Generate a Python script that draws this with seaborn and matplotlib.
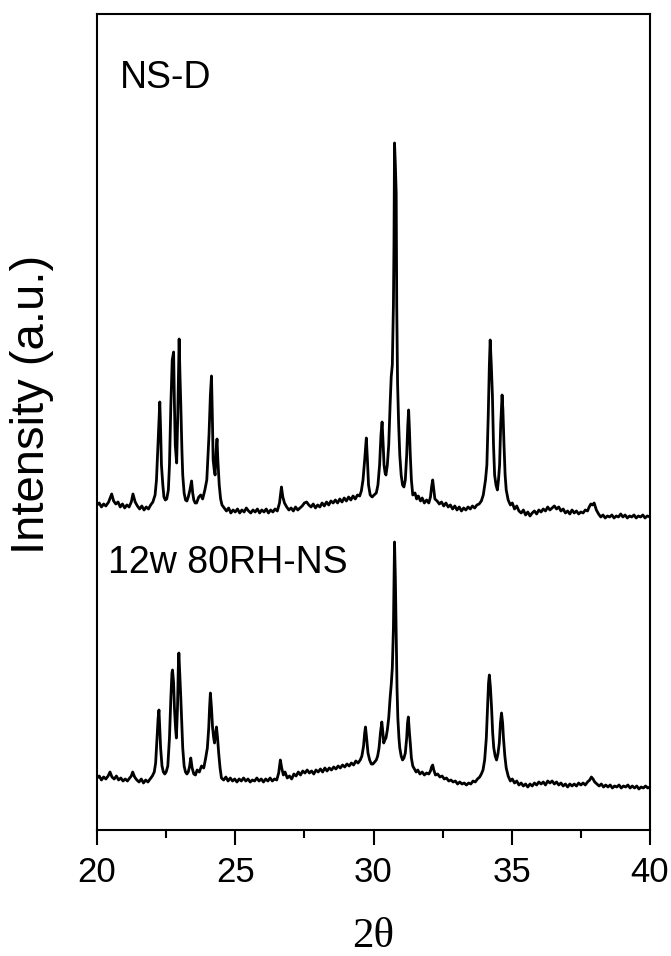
import pandas as pd
import matplotlib
matplotlib.use('Agg')
import matplotlib.pyplot as plt
from matplotlib.ticker import MultipleLocator
import seaborn as sns

# (2-theta, intensity a.u.) pairs, baseline near 0
ns_d_points = [
    (20.0, 0), (20.08, 2), (20.16, -2), (20.24, 1), (20.32, -1), (20.42, 3), (20.53, 11),
    (20.6, 4), (20.68, 1), (20.76, 3), (20.84, -2), (20.92, 1), (21.0, -3), (21.08, 0),
    (21.16, -2), (21.24, 3), (21.3, 11), (21.38, 3), (21.46, -1), (21.54, -4), (21.62, -1),
    (21.7, -5), (21.78, -2), (21.86, -4), (21.94, 0), (22.02, 3), (22.1, 10), (22.15, 25),
    (22.22, 70), (22.27, 103), (22.3, 75), (22.33, 40), (22.38, 20), (22.42, 8), (22.47, 5),
    (22.52, 6), (22.58, 15), (22.62, 40), (22.67, 100), (22.72, 145), (22.77, 153),
    (22.8, 100), (22.83, 60), (22.88, 42), (22.92, 90), (22.97, 166), (23.0, 130),
    (23.03, 100), (23.07, 55), (23.1, 30), (23.15, 12), (23.2, 5), (23.25, 4), (23.3, 8),
    (23.36, 15), (23.42, 24), (23.46, 12), (23.5, 5), (23.55, 2), (23.6, 2), (23.68, 8),
    (23.75, 10), (23.82, 6), (23.9, 15), (23.97, 25), (24.05, 70), (24.1, 110), (24.14, 129),
    (24.17, 90), (24.2, 45), (24.24, 35), (24.27, 30), (24.31, 55), (24.34, 66), (24.37, 45),
    (24.42, 20), (24.47, 6), (24.52, 0), (24.6, -3), (24.68, -6), (24.76, -3), (24.84, -8),
    (24.92, -5), (25.0, -7), (25.08, -4), (25.16, -8), (25.24, -5), (25.32, -7), (25.4, -3),
    (25.48, -6), (25.56, -8), (25.64, -5), (25.72, -7), (25.8, -4), (25.88, -8), (25.96, -5),
    (26.04, -7), (26.12, -4), (26.2, -8), (26.28, -5), (26.36, -7), (26.44, -4), (26.52, -6),
    (26.6, 2), (26.67, 18), (26.72, 8), (26.78, 2), (26.86, -2), (26.94, -5), (27.02, -3),
    (27.1, -6), (27.18, -2), (27.26, -5), (27.34, -3), (27.42, -1), (27.5, 2), (27.58, 3),
    (27.66, 0), (27.74, -2), (27.82, 1), (27.9, -3), (27.98, 0), (28.06, -2), (28.14, 2),
    (28.22, -1), (28.3, 3), (28.38, 0), (28.46, 4), (28.54, 2), (28.62, 5), (28.7, 2),
    (28.78, 6), (28.86, 3), (28.94, 7), (29.02, 4), (29.1, 8), (29.18, 5), (29.26, 9),
    (29.34, 6), (29.42, 10), (29.5, 9), (29.56, 14), (29.62, 25), (29.68, 45), (29.74, 67),
    (29.78, 45), (29.82, 20), (29.88, 10), (29.95, 8), (30.02, 10), (30.1, 12), (30.16, 20),
    (30.22, 40), (30.27, 70), (30.31, 83), (30.35, 60), (30.38, 40), (30.42, 32), (30.45, 30),
    (30.5, 40), (30.55, 60), (30.6, 100), (30.64, 128), (30.68, 140), (30.72, 200),
    (30.74, 260), (30.76, 362), (30.79, 340), (30.82, 312), (30.84, 200), (30.87, 122),
    (30.91, 80), (30.95, 50), (31.0, 30), (31.05, 20), (31.1, 18), (31.15, 25), (31.2, 50),
    (31.24, 80), (31.27, 95), (31.3, 75), (31.33, 50), (31.37, 25), (31.42, 10), (31.5, 12),
    (31.56, 6), (31.62, 9), (31.7, 4), (31.76, 7), (31.84, 2), (31.92, 5), (32.0, 2),
    (32.06, 8), (32.1, 18), (32.14, 25), (32.18, 15), (32.22, 6), (32.3, 4), (32.38, 1),
    (32.46, 3), (32.54, -1), (32.62, 2), (32.7, -2), (32.78, 0), (32.86, -4), (32.94, -1),
    (33.02, -5), (33.1, -2), (33.18, -6), (33.26, -3), (33.34, -5), (33.42, -2), (33.5, -4),
    (33.58, -1), (33.66, -3), (33.74, 0), (33.82, 1), (33.9, 4), (33.97, 10), (34.05, 25),
    (34.1, 40), (34.15, 90), (34.19, 140), (34.22, 165), (34.26, 140), (34.3, 110),
    (34.34, 60), (34.38, 30), (34.43, 20), (34.48, 15), (34.52, 25), (34.56, 40), (34.6, 80),
    (34.65, 110), (34.68, 95), (34.72, 60), (34.76, 30), (34.8, 15), (34.87, 5), (34.95, 0),
    (35.02, 2), (35.1, -4), (35.18, -1), (35.26, -6), (35.34, -8), (35.42, -5), (35.5, -10),
    (35.58, -7), (35.66, -11), (35.74, -8), (35.82, -6), (35.9, -9), (35.98, -5), (36.06, -7),
    (36.14, -4), (36.22, -6), (36.3, -2), (36.38, -5), (36.46, -3), (36.54, -1), (36.62, -4),
    (36.7, -2), (36.78, -6), (36.86, -4), (36.94, -8), (37.02, -6), (37.1, -9), (37.18, -5),
    (37.26, -8), (37.34, -6), (37.42, -9), (37.5, -7), (37.58, -8), (37.66, -5), (37.74, -6),
    (37.8, -2), (37.86, 1), (37.92, 0), (37.98, 2), (38.06, -5), (38.14, -9), (38.22, -12),
    (38.3, -10), (38.38, -13), (38.46, -11), (38.54, -12), (38.62, -10), (38.7, -13),
    (38.78, -11), (38.86, -12), (38.94, -9), (39.02, -12), (39.1, -10), (39.18, -13),
    (39.26, -11), (39.34, -12), (39.42, -10), (39.5, -13), (39.58, -11), (39.66, -12),
    (39.74, -10), (39.82, -13), (39.9, -11), (40.0, -12),
]

rh_points = [
    (20.0, 0), (20.08, 2), (20.16, -2), (20.24, 1), (20.32, -1), (20.4, 2), (20.47, 6),
    (20.54, 1), (20.62, -1), (20.7, 2), (20.78, -2), (20.86, 0), (20.94, -3), (21.02, -1),
    (21.1, -3), (21.18, 0), (21.24, 2), (21.29, 6), (21.36, 1), (21.44, -2), (21.52, -4),
    (21.6, -1), (21.68, -5), (21.76, -2), (21.84, -4), (21.92, -1), (22.0, 2), (22.07, 6),
    (22.12, 15), (22.17, 40), (22.21, 60), (22.24, 68), (22.27, 50), (22.3, 30), (22.35, 12),
    (22.4, 6), (22.45, 4), (22.5, 6), (22.56, 12), (22.62, 40), (22.67, 80), (22.71, 105),
    (22.73, 108), (22.77, 95), (22.8, 70), (22.84, 50), (22.87, 40), (22.91, 70), (22.94, 110),
    (22.96, 125), (23.0, 100), (23.03, 80), (23.07, 50), (23.1, 30), (23.15, 12), (23.2, 6),
    (23.25, 4), (23.3, 6), (23.35, 12), (23.39, 20), (23.44, 10), (23.5, 4), (23.56, 3),
    (23.62, 8), (23.7, 6), (23.78, 12), (23.86, 10), (23.93, 20), (23.99, 30), (24.04, 50),
    (24.07, 70), (24.1, 85), (24.14, 70), (24.18, 50), (24.22, 40), (24.25, 35), (24.29, 45),
    (24.32, 51), (24.36, 40), (24.4, 25), (24.45, 10), (24.5, 0), (24.58, -2), (24.66, 1),
    (24.74, -3), (24.82, 0), (24.9, -3), (24.98, -1), (25.06, -4), (25.14, -1), (25.22, -3),
    (25.3, 0), (25.38, -3), (25.46, -1), (25.54, -4), (25.62, -2), (25.7, -3), (25.78, 0),
    (25.86, -3), (25.94, -1), (26.02, -4), (26.1, -1), (26.18, -3), (26.26, 0), (26.34, -3),
    (26.42, -1), (26.5, -2), (26.57, 5), (26.63, 18), (26.68, 10), (26.74, 3), (26.8, 6),
    (26.88, 0), (26.96, 2), (27.04, -1), (27.12, 4), (27.2, 2), (27.28, 6), (27.36, 3),
    (27.44, 7), (27.52, 5), (27.6, 8), (27.68, 5), (27.76, 7), (27.84, 4), (27.92, 8),
    (28.0, 6), (28.08, 9), (28.16, 6), (28.24, 10), (28.32, 7), (28.4, 10), (28.48, 8),
    (28.56, 11), (28.64, 9), (28.72, 12), (28.8, 10), (28.88, 13), (28.96, 11), (29.04, 14),
    (29.12, 12), (29.2, 15), (29.28, 13), (29.36, 17), (29.44, 15), (29.52, 18), (29.58, 22),
    (29.64, 32), (29.68, 45), (29.71, 51), (29.75, 40), (29.8, 25), (29.86, 18), (29.92, 14),
    (29.98, 14), (30.04, 16), (30.1, 18), (30.15, 22), (30.2, 30), (30.25, 45), (30.3, 56),
    (30.34, 45), (30.37, 35), (30.41, 38), (30.45, 40), (30.5, 48), (30.55, 60), (30.6, 80),
    (30.64, 93), (30.68, 110), (30.72, 150), (30.74, 190), (30.76, 236), (30.79, 200),
    (30.82, 145), (30.85, 90), (30.88, 60), (30.92, 40), (30.95, 30), (31.0, 22), (31.05, 18),
    (31.1, 20), (31.15, 25), (31.2, 40), (31.23, 55), (31.26, 61), (31.3, 45), (31.33, 35),
    (31.37, 20), (31.42, 12), (31.48, 9), (31.54, 6), (31.6, 8), (31.68, 4), (31.76, 6),
    (31.84, 3), (31.92, 5), (32.0, 4), (32.06, 7), (32.1, 11), (32.14, 13), (32.18, 8),
    (32.24, 3), (32.32, 4), (32.4, 1), (32.48, 2), (32.56, -1), (32.64, 0), (32.72, -3),
    (32.8, -2), (32.88, -4), (32.96, -3), (33.04, -6), (33.12, -4), (33.2, -6), (33.28, -5),
    (33.36, -7), (33.44, -5), (33.52, -6), (33.6, -3), (33.68, -4), (33.76, -1), (33.84, 1),
    (33.9, 4), (33.96, 8), (34.02, 18), (34.08, 40), (34.13, 75), (34.16, 95), (34.19, 103),
    (34.23, 90), (34.27, 70), (34.31, 45), (34.35, 30), (34.4, 22), (34.45, 18), (34.5, 24),
    (34.55, 35), (34.59, 55), (34.63, 65), (34.67, 55), (34.7, 40), (34.75, 22), (34.8, 10),
    (34.87, 2), (34.95, -3), (35.02, -1), (35.1, -5), (35.18, -3), (35.26, -7), (35.34, -5),
    (35.42, -8), (35.5, -6), (35.58, -9), (35.66, -6), (35.74, -8), (35.82, -5), (35.9, -7),
    (35.98, -4), (36.06, -6), (36.14, -4), (36.22, -7), (36.3, -3), (36.38, -5), (36.46, -3),
    (36.54, -6), (36.62, -4), (36.7, -7), (36.78, -5), (36.86, -8), (36.94, -6), (37.02, -9),
    (37.1, -6), (37.18, -8), (37.26, -6), (37.34, -8), (37.42, -5), (37.5, -7), (37.58, -5),
    (37.66, -7), (37.74, -4), (37.82, -2), (37.88, 1), (37.94, -1), (38.0, -4), (38.08, -6),
    (38.16, -8), (38.24, -6), (38.32, -9), (38.4, -7), (38.48, -9), (38.56, -7), (38.64, -10),
    (38.72, -8), (38.8, -9), (38.88, -7), (38.96, -10), (39.04, -8), (39.12, -9), (39.2, -7),
    (39.28, -10), (39.36, -8), (39.44, -10), (39.52, -8), (39.6, -11), (39.68, -9),
    (39.76, -10), (39.84, -8), (39.92, -10), (40.0, -9),
]

labels = ['NS-D', '12w 80RH-NS']
offsets = [325, 52]   # vertical stacking of the two patterns
x_ticks = [20, 25, 30, 35, 40]

ns = pd.DataFrame(ns_d_points, columns=['two_theta', 'intensity'])
ns['intensity'] += offsets[0]
rh = pd.DataFrame(rh_points, columns=['two_theta', 'intensity'])
rh['intensity'] += offsets[1]

sns.set_style('ticks')
plt.rcParams['font.family'] = ['Liberation Sans', 'DejaVu Sans']
plt.rcParams['text.color'] = 'black'
plt.rcParams['axes.labelcolor'] = 'black'

fig = plt.figure(figsize=(6.71, 9.56), dpi=100)
ax = fig.add_axes([0.1446, 0.1318, 0.8241, 0.8536])

sns.lineplot(data=ns, x='two_theta', y='intensity', color='black', linewidth=2.0, ax=ax)
sns.lineplot(data=rh, x='two_theta', y='intensity', color='black', linewidth=2.0, ax=ax)

ax.set_xlim(20, 40)
ax.set_ylim(0, 816)
ax.set_xticks(x_ticks)
ax.xaxis.set_minor_locator(MultipleLocator(2.5))
ax.set_yticks([])
ax.tick_params(axis='x', which='major', direction='out', length=11, width=1.5,
               labelsize=25, pad=8, colors='black')
ax.tick_params(axis='x', which='minor', direction='out', length=5.5, width=1.5, colors='black')
for s in ax.spines.values():
    s.set_linewidth(1.5)
    s.set_color('black')

ax.set_xlabel('2θ', fontsize=31, family='Liberation Serif', labelpad=20)
ax.set_ylabel('Intensity (a.u.)', fontsize=34)
ax.yaxis.set_label_coords(-0.078, 0.521)

ax.text(0.0416, 0.909, labels[0], transform=ax.transAxes, fontsize=27, ha='left', va='baseline')
ax.text(0.02, 0.315, labels[1], transform=ax.transAxes, fontsize=27, ha='left', va='baseline')

fig.savefig('out.png', dpi=100)
